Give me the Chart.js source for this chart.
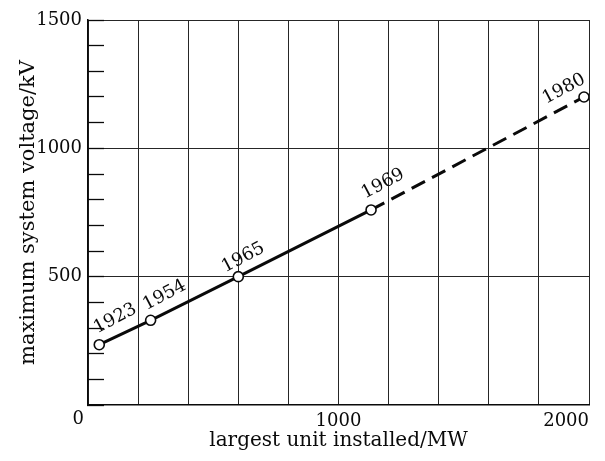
<!DOCTYPE html>
<html>
<head>
<meta charset="utf-8">
<script src="https://cdn.jsdelivr.net/npm/chart.js@4.4.1/dist/chart.umd.min.js"></script>
<style>
html, body { margin: 0; padding: 0; background: #fff; }
</style>
</head>
<body>
<canvas id="chart_voltage" width="605" height="461"></canvas>
<script>
// values
var years = ['1923', '1954', '1965', '1969', '1980'];
var unitMW = [45, 250, 600, 1130, 1980];
var voltageKV = [235, 330, 500, 760, 1200];
var xTickLabels = ['1000', '2000'];
var yTickLabels = ['500', '1000', '1500'];

// where each year label sits relative to its point (px)
var labelShift = [[16, -26], [14, -25], [5, -19], [12, -26], [-20, -8]];

var ink = '#0a0a0a';
var serif = '"DejaVu Serif", serif';

var points = [];
for (var i = 0; i < years.length; i++) {
  points.push({ x: unitMW[i], y: voltageKV[i] });
}

var yearLabels = {
  id: 'yearLabels',
  afterDatasetsDraw: function(chart) {
    var ctx = chart.ctx;
    var pts = chart.getDatasetMeta(0).data;
    ctx.save();
    ctx.font = '18px ' + serif;
    ctx.fillStyle = ink;
    ctx.textAlign = 'center';
    ctx.textBaseline = 'middle';
    for (var i = 0; i < pts.length; i++) {
      ctx.save();
      ctx.translate(pts[i].x + labelShift[i][0], pts[i].y + labelShift[i][1]);
      ctx.rotate(-28 * Math.PI / 180);
      ctx.fillText(years[i], 0, 0);
      ctx.restore();
    }
    // shared origin label at the corner
    var xs = chart.scales.x, ys = chart.scales.y;
    ctx.textAlign = 'right';
    ctx.fillText('0', xs.getPixelForValue(0) - 4, ys.getPixelForValue(0) + 14);
    ctx.restore();
  }
};

var ctx = document.getElementById('chart_voltage').getContext('2d');
var chart = new Chart(ctx, {
  type: 'line',
  data: {
    datasets: [{
      data: points,
      borderColor: ink,
      borderWidth: 3,
      pointRadius: 5,
      pointBorderWidth: 1.6,
      pointBackgroundColor: '#fff',
      pointBorderColor: ink,
      tension: 0,
      segment: {
        borderDash: function(c) { return c.p0DataIndex >= 3 ? [15, 8] : undefined; }
      }
    }]
  },
  options: {
    responsive: false,
    animation: false,
    devicePixelRatio: 1,
    layout: { padding: { top: 20, right: 16, left: 0, bottom: 0 } },
    plugins: {
      legend: { display: false },
      tooltip: { enabled: false }
    },
    scales: {
      x: {
        type: 'linear',
        min: 0,
        max: 2000,
        afterFit: function(s) { s.height = 56; s.paddingLeft = 0; s.paddingRight = 0; },
        border: { color: ink, width: 1.5 },
        grid: { color: '#262626', lineWidth: 1, drawTicks: false },
        ticks: {
          stepSize: 200,
          autoSkip: false,
          maxRotation: 0,
          align: 'inner',
          padding: 6,
          color: ink,
          font: { family: serif, size: 18 },
          callback: function(v) { return xTickLabels.indexOf(String(v)) >= 0 ? String(v) : ''; }
        },
        title: {
          display: true,
          text: 'largest unit installed/MW',
          color: ink,
          font: { family: serif, size: 20 },
          padding: { top: 0, bottom: 8 }
        }
      },
      y: {
        min: 0,
        max: 1500,
        afterFit: function(s) { s.width = 88; s.paddingTop = 0; s.paddingBottom = 0; },
        border: { color: ink, width: 1.5 },
        grid: {
          lineWidth: 1,
          tickLength: -16,
          tickWidth: 1.3,
          tickColor: ink,
          color: function(c) {
            var v = c.tick ? c.tick.value : 0;
            return (v === 500 || v === 1000 || v === 1500) ? '#262626' : 'rgba(0,0,0,0)';
          }
        },
        ticks: {
          stepSize: 100,
          autoSkip: false,
          padding: 22,
          color: ink,
          font: { family: serif, size: 18 },
          callback: function(v) { return yTickLabels.indexOf(String(v)) >= 0 ? String(v) : ''; }
        },
        title: {
          display: true,
          text: 'maximum system voltage/kV',
          color: ink,
          font: { family: serif, size: 21 },
          padding: { top: 16, bottom: 0 }
        }
      }
    }
  },
  plugins: [yearLabels]
});
</script>
</body>
</html>
